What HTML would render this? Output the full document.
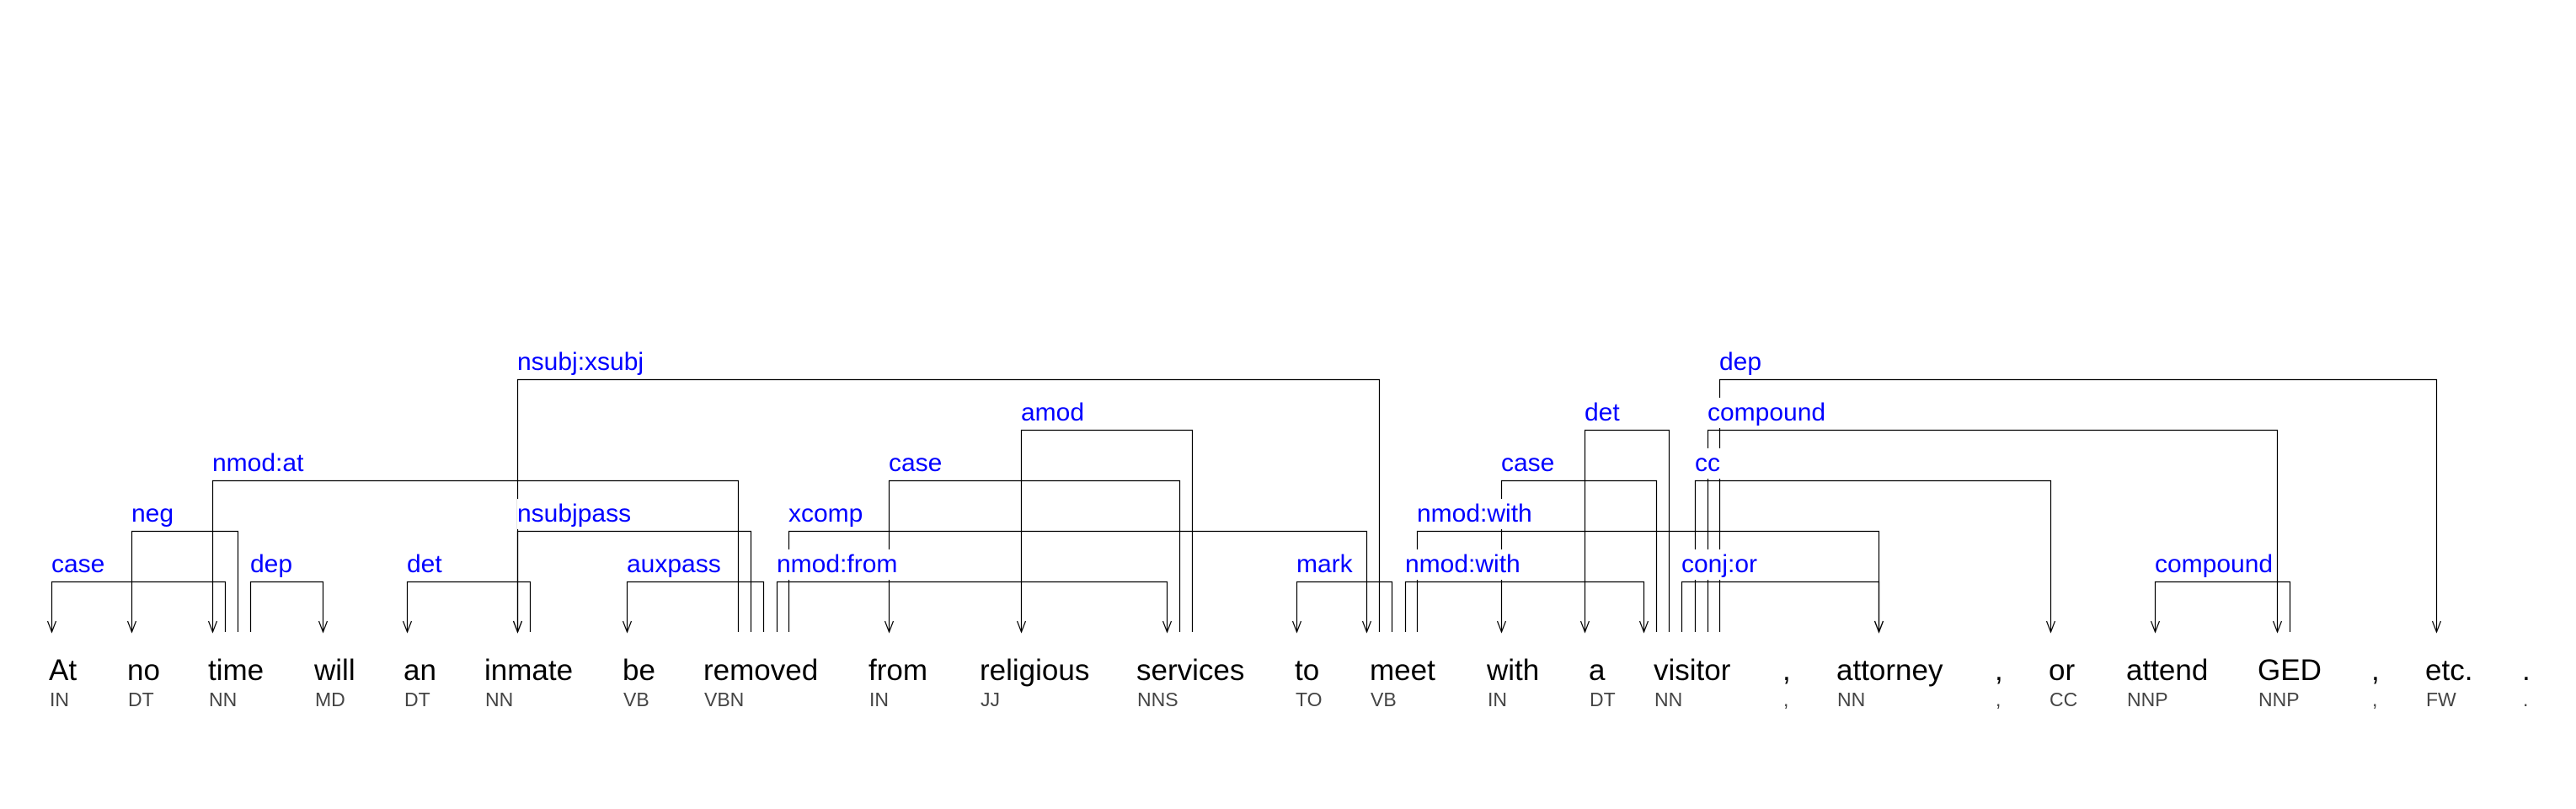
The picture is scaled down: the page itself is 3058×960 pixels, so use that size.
<!DOCTYPE html>
<html><head><meta charset="utf-8">
<style>
html,body{margin:0;padding:0;background:#fff;}
#c{position:relative;width:3058px;height:960px;overflow:hidden;background:#fff;font-family:"Liberation Sans",Arial,sans-serif;}
svg{position:absolute;left:0;top:0;}
.l{position:absolute;height:36px;line-height:36px;font-size:30px;color:#0000ff;background:#fff;padding-right:2px;white-space:nowrap;}
.w{position:absolute;font-size:35px;color:#000;white-space:nowrap;line-height:1;}
.t{position:absolute;font-size:23px;color:#444;white-space:nowrap;line-height:1;}
</style></head><body><div id="c">
<svg width="3058" height="960" xmlns="http://www.w3.org/2000/svg">
<g stroke="#000" stroke-width="1.2" fill="none" id="g"></g>
</svg>
<div id="labels"></div>
</div>
<script>
var E=[
["case",61,267,1,61],["neg",156,282,2,156],["nmod:at",252,876,3,252],["dep",297,383,1,383],
["det",483,629,1,483],["nsubjpass",614,891,2,614],["nsubj:xsubj",614,1637,5,614],["auxpass",744,906,1,744],
["nmod:from",922,1385,1,1385],["xcomp",936,1622,2,1622],["case",1055,1400,3,1055],["amod",1212,1415,4,1212],
["mark",1539,1652,1,1539],["nmod:with",1668,1951,1,1951],["nmod:with",1682,2230,2,2230],["case",1782,1966,3,1782],
["det",1881,1981,4,1881],["conj:or",1996,2230,1,2230],["cc",2012,2434,3,2434],["compound",2027,2703,4,2703],
["dep",2041,2892,5,2892],["compound",2558,2718,1,2558]];
var Y={1:690,2:630,3:570,4:510,5:450};
var g=document.getElementById("g"),L=document.getElementById("labels"),s="";
E.forEach(function(e){var y=Y[e[3]]+0.5,a=e[1]+0.5,b=e[2]+0.5,d=e[4]+0.5;
s+='<path d="M'+a+' 750 L'+a+' '+y+' L'+b+' '+y+' L'+b+' 750"/>';
s+='<path d="M'+(d-5)+' 737 L'+d+' 750 L'+(d+5)+' 737"/>';
L.innerHTML+='<div class="l" style="left:'+e[1]+'px;top:'+(Y[e[3]]-38)+'px">'+e[0]+'</div>';});
g.innerHTML=s;
var W=[["At",60,"IN"],["no",153,"DT"],["time",249,"NN"],["will",375,"MD"],["an",481,"DT"],["inmate",577,"NN"],["be",741,"VB"],["removed",837,"VBN"],["from",1033,"IN"],["religious",1165,"JJ"],["services",1351,"NNS"],["to",1539,"TO"],["meet",1628,"VB"],["with",1767,"IN"],["a",1888,"DT"],["visitor",1965,"NN"],[",",2118,","],["attorney",2182,"NN"],[",",2370,","],["or",2434,"CC"],["attend",2526,"NNP"],["GED",2682,"NNP"],[",",2817,","],["etc.",2881,"FW"],[".",2996,"."]];
var h="";W.forEach(function(w){h+='<div class="w" style="left:'+(w[1]-2)+'px;top:'+(810-32)+'px">'+w[0]+'</div>';
h+='<div class="t" style="left:'+(w[1]-1)+'px;top:'+(840-21)+'px">'+w[2]+'</div>';});
L.innerHTML+=h;
</script>
</body></html>
